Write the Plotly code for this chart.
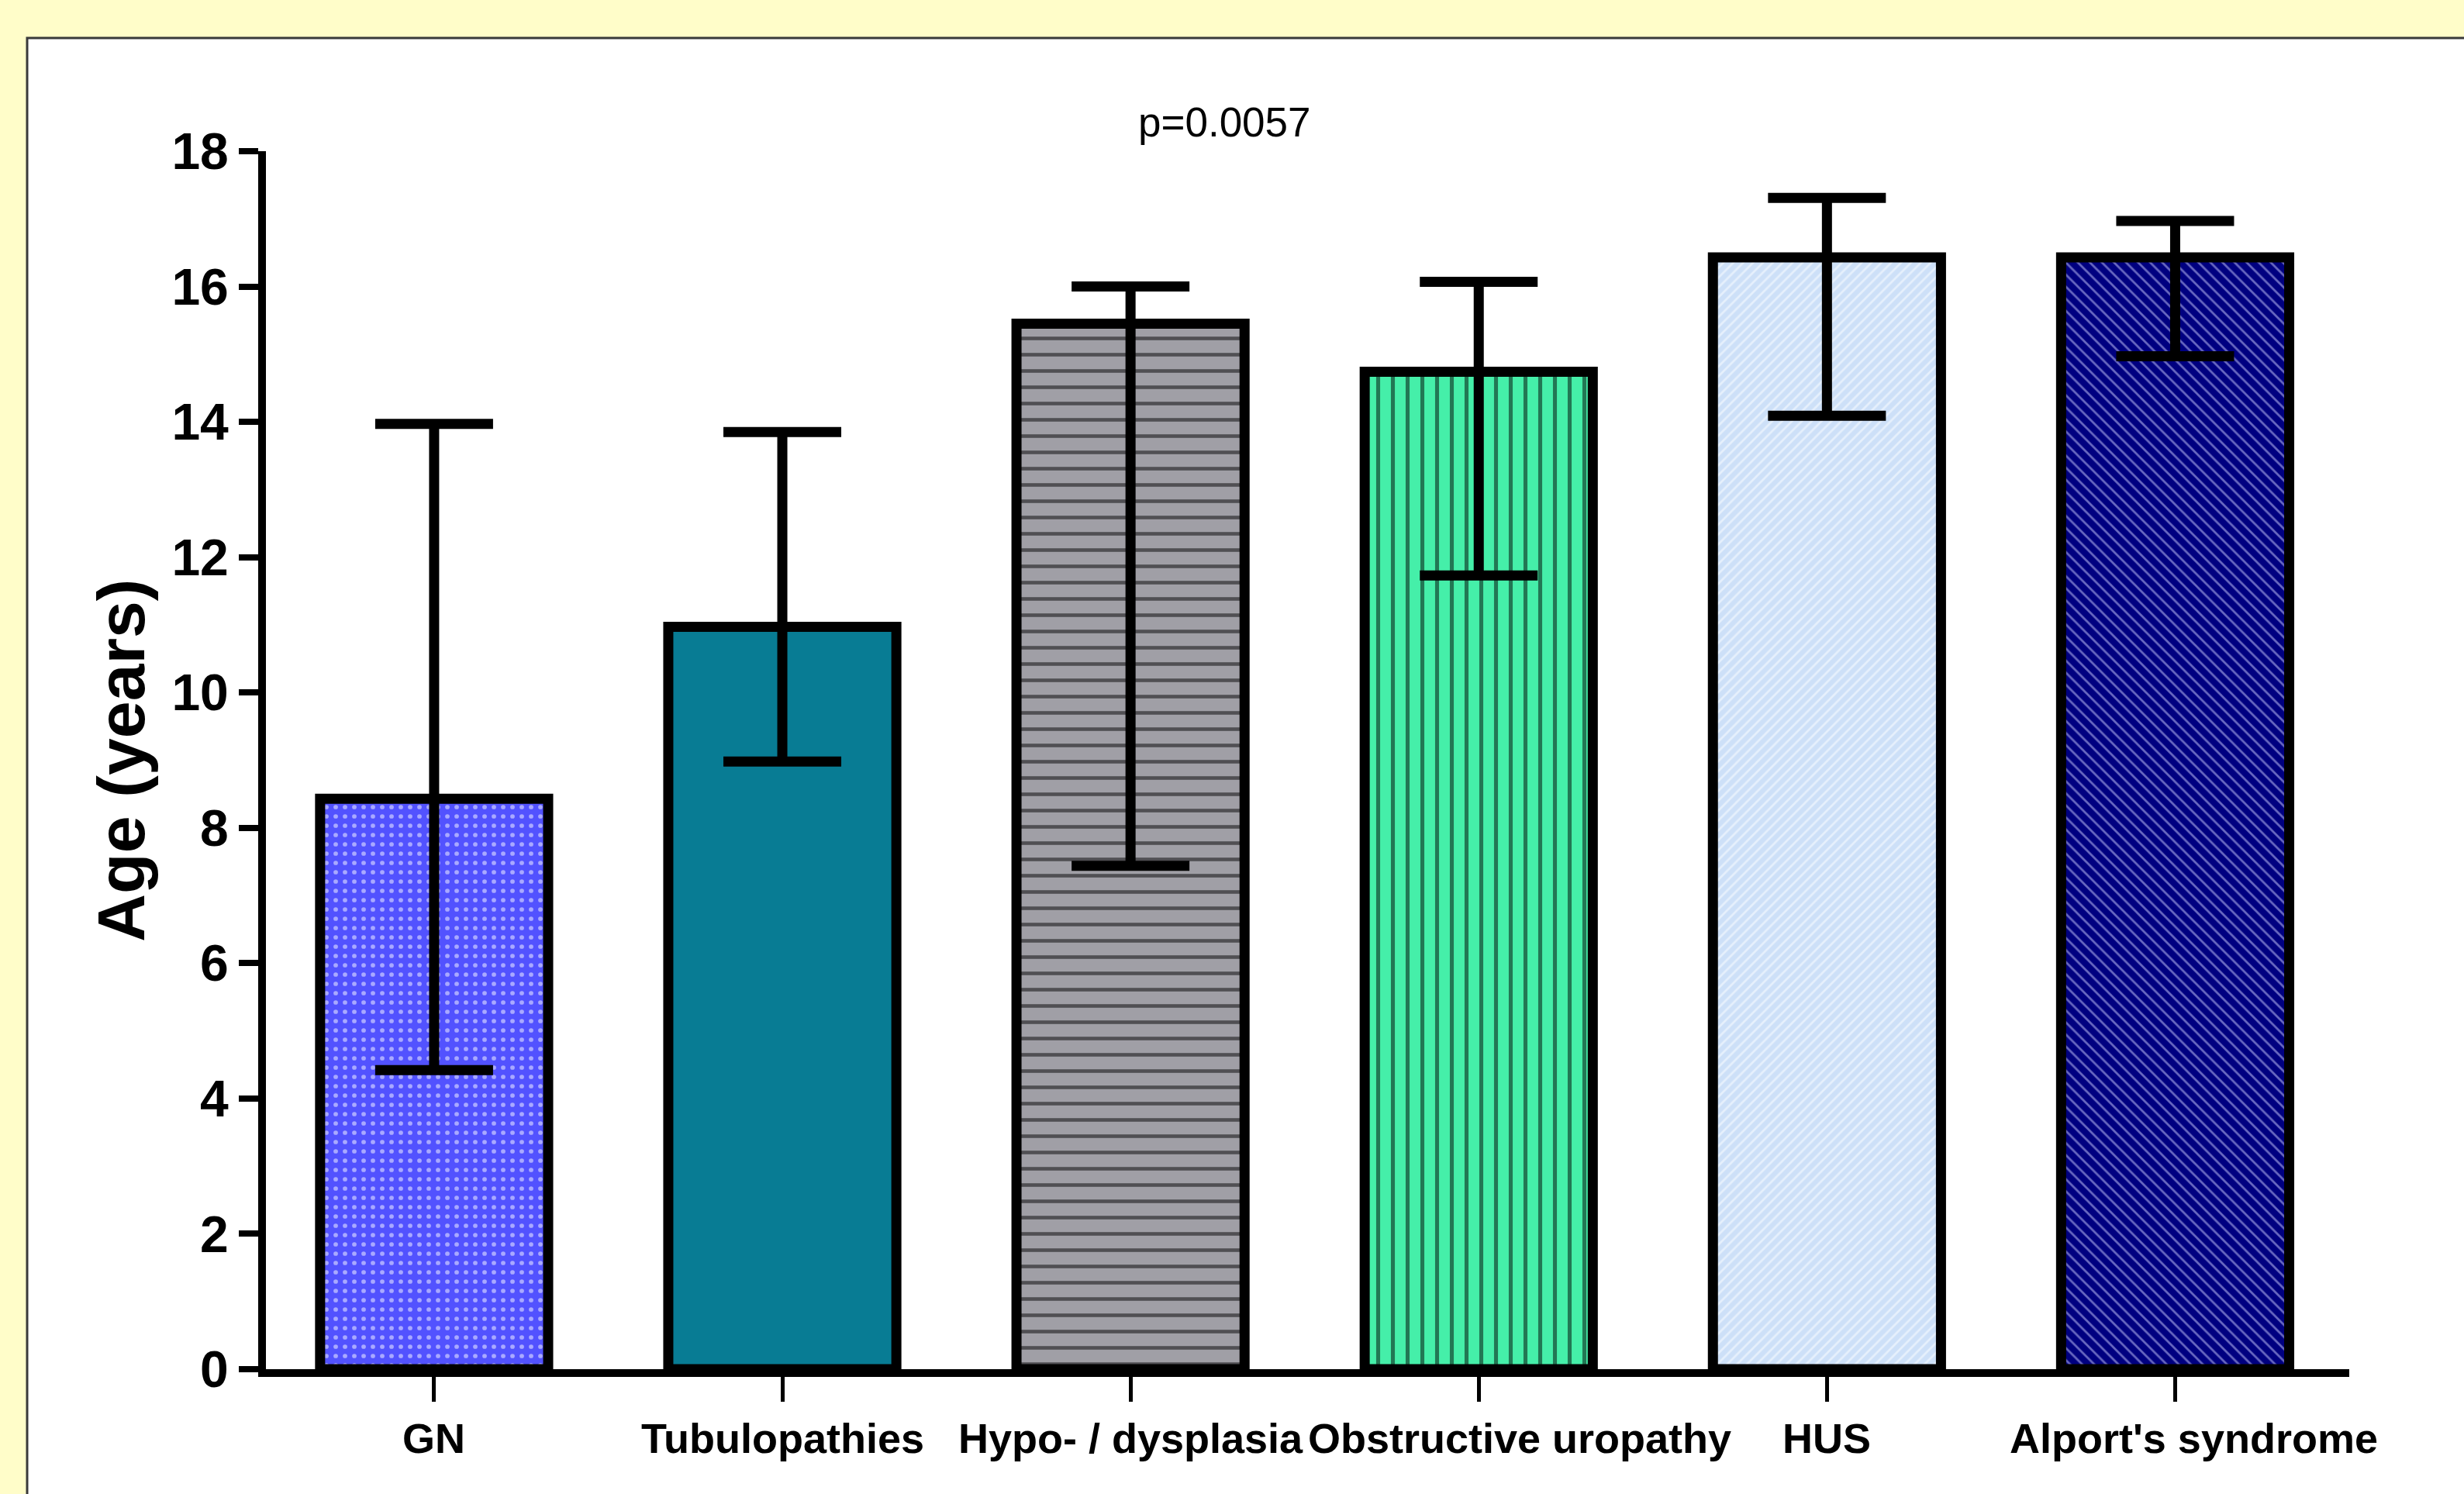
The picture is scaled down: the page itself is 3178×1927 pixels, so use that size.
import plotly.graph_objects as go

categories = ["GN", "Tubulopathies", "Hypo- / dysplasia", "Obstructive uropathy", "HUS", "Alport's syndrome"]
means = [8.43, 10.97, 15.45, 14.74, 16.43, 16.43]
upper = [13.97, 13.85, 16.0, 16.07, 17.31, 16.97]
lower = [4.42, 8.98, 7.44, 11.73, 14.09, 14.97]
y_ticks = [0, 2, 4, 6, 8, 10, 12, 14, 16, 18]

bg_colors = ["#5252FF", "#087C94", "#A09FA6", "#45EFA9", "#CDE0F8", "#000080"]
fg_colors = ["#FFFFFF", "#087C94", "#000000", "#000000", "#FFFFFF", "#D0D0FF"]
shapes_pat = [".", "", "-", "|", "/", "\\"]
pat_sizes = [12, 10, 21, 19, 9, 11]
pat_solid = [0.18, 0.3, 0.22, 0.27, 0.3, 0.25]
label_shift = [0, 0, 0, 53, 0, 24]

W, H = 3178, 1927
L, R, T, B = 343, 148, 195, 161
pw, ph = W - L - R, H - T - B

fig = go.Figure()
for i, cat in enumerate(categories):
    fig.add_trace(go.Bar(
        x=[cat], y=[means[i]], width=0.655,
        marker=dict(
            color=bg_colors[i],
            line=dict(color="black", width=13),
            pattern=dict(shape=shapes_pat[i], fgcolor=fg_colors[i], bgcolor=bg_colors[i],
                         size=pat_sizes[i], solidity=pat_solid[i], fillmode="overlay"),
        ),
        error_y=dict(type="data", symmetric=False,
                     array=[upper[i] - means[i]], arrayminus=[means[i] - lower[i]],
                     color="black", thickness=13, width=76),
        showlegend=False,
    ))

def px_x(p):
    return (p - L) / pw

def px_y(p):
    return (H - B - p) / ph

annotations = [
    dict(text="Age (years)", xref="paper", yref="paper", x=px_x(156), y=px_y(981),
         xanchor="center", yanchor="middle", textangle=-90, showarrow=False,
         font=dict(family="Liberation Sans, Arial", size=86, color="black", weight="bold")),
    dict(text="p=0.0057", xref="paper", yref="paper", x=px_x(1579), y=px_y(158),
         xanchor="center", yanchor="middle", showarrow=False,
         font=dict(family="Liberation Sans, Arial", size=53, color="black")),
]
for cat, sh in zip(categories, label_shift):
    annotations.append(dict(
        text=cat, xref="x", yref="paper", x=cat, y=px_y(1855), xshift=sh,
        xanchor="center", yanchor="middle", showarrow=False,
        font=dict(family="Liberation Sans, Arial", size=54, color="black", weight="bold")))

fig.update_layout(
    width=W, height=H,
    margin=dict(l=L, r=R, t=T, b=B, pad=0, autoexpand=False),
    paper_bgcolor="#FFFDC9",
    plot_bgcolor="white",
    barmode="overlay",
    shapes=[dict(type="rect", xref="paper", yref="paper", layer="below",
                 x0=px_x(35), x1=px_x(3300), y0=px_y(2000), y1=px_y(49),
                 fillcolor="white", line=dict(color="#3A3A3A", width=3))],
    annotations=annotations,
    xaxis=dict(
        showline=True, linecolor="black", linewidth=10, mirror=False,
        ticks="outside", ticklen=32, tickwidth=5, tickcolor="black",
        showgrid=False, zeroline=False, range=[-0.483, 5.5],
        categoryorder="array", categoryarray=categories,
        showticklabels=False, automargin=False,
    ),
    yaxis=dict(
        showline=True, linecolor="black", linewidth=10,
        ticks="outside", ticklen=25, tickwidth=8, tickcolor="black",
        showgrid=False, zeroline=False, range=[0, 18], automargin=False,
        tickvals=y_ticks, ticktext=[str(v) for v in y_ticks],
        tickfont=dict(family="Liberation Sans, Arial", size=66, color="black", weight="bold"),
    ),
)

fig.write_html("out.html", config={"displayModeBar": False},
               post_script="document.body.style.margin='0';document.body.style.background='#FFFDC9';")
